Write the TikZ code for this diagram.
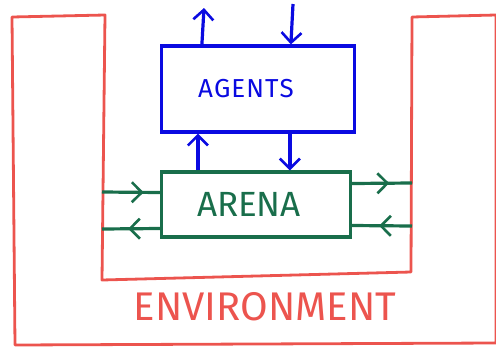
\documentclass[tikz,border=0pt]{standalone}
\usepackage{fontspec}
\setmainfont{Fira Sans}
\usetikzlibrary{arrows.meta,decorations.markings}
\definecolor{envred}{RGB}{236,84,78}
\definecolor{agblue}{RGB}{10,10,225}
\definecolor{argreen}{RGB}{25,110,75}
\begin{document}
\begin{tikzpicture}[x=1pt, y=-1pt,
	box/.style = {draw, line width=3.2pt, inner sep=0pt},
	tip/.style = {line width=3.2pt, -{Straight Barb[length=10pt,width=20pt,line width=2.6pt]}},
	midtip/.style = {line width=3.2pt, postaction={decorate},
		decoration={markings, mark=at position #1 with {\arrow{Straight Barb[length=10pt,width=20pt,line width=2.6pt]}}}}]
	\useasboundingbox (0,0) rectangle (496,349);
	% environment
	\draw[envred, line width=2.8pt, line join=round] (12,17) -- (105,15) -- (102,280) -- (411,272) -- (412,17) -- (496,15) -- (496,343) -- (15,345) -- cycle;
	\node[envred, font=\fontsize{40}{42}\selectfont] (env) at (265,307) {ENVIRONMENT};
	% agents and arena
	\node[box, agblue, minimum width=193pt, minimum height=86pt, text=agblue, font=\fontsize{26}{28}\selectfont] (agents) at (258,89) {A\kern1pt G\kern1pt E\kern1pt N\kern1pt T\kern1pt S\hspace*{24pt}};
	\node[box, argreen, minimum width=189pt, minimum height=65pt, text=argreen, font=\fontsize{35}{37}\selectfont] (arena) at (256,204.5) {ARENA\hspace*{14pt}};
	\coordinate (out) at (204,8);
	\coordinate (in) at (293,4);
	\coordinate (wl1) at (102,192);
	\coordinate (wl2) at (102,229);
	\coordinate (wr1) at (412,183);
	\coordinate (wr2) at (412,226);
	\draw[tip, agblue] ([xshift=42pt]agents.north west) -- (out);
	\draw[tip, agblue] (in) -- ([xshift=131pt]agents.north west);
	\draw[tip, agblue] ([xshift=38pt]arena.north west) -- ([xshift=38pt]agents.south west);
	\draw[tip, agblue] ([xshift=130pt]agents.south west) -- ([xshift=130pt]arena.north west);
	\draw[midtip=0.72, argreen] (wl1) -- ([yshift=12pt]arena.west);
	\draw[midtip=0.55, argreen] ([yshift=-24pt]arena.west) -- (wl2);
	\draw[midtip=0.62, argreen] ([yshift=21pt]arena.east) -- (wr1);
	\draw[midtip=0.55, argreen] (wr2) -- ([yshift=-21pt]arena.east);
\end{tikzpicture}
\end{document}
